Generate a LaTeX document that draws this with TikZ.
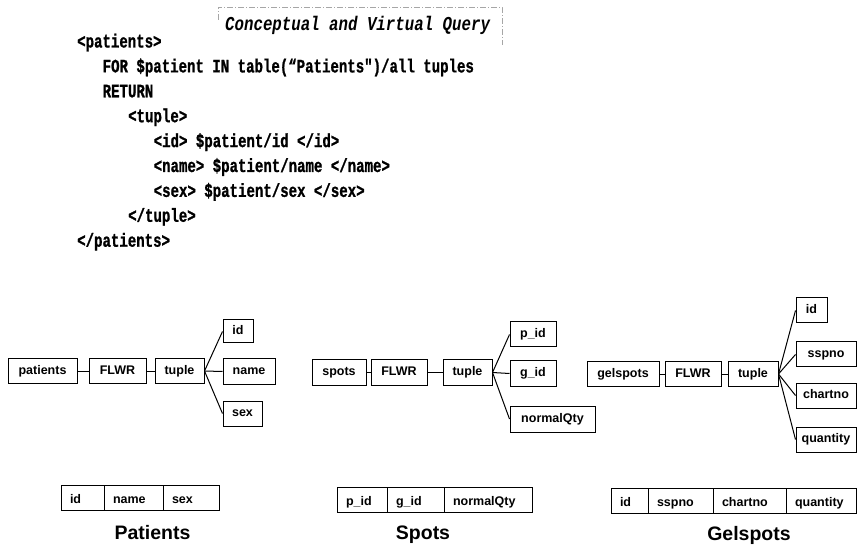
\documentclass[tikz,border=0pt]{standalone}
\usepackage{fontspec}
\setmainfont{Liberation Sans}
\newfontfamily\codefont[FakeStretch=0.74,FakeBold=1]{Liberation Mono}
\newfontfamily\titlefont[FakeStretch=0.80]{Liberation Mono}
\begin{document}
\begin{tikzpicture}[x=1pt,y=-1pt,
  box/.style={draw, line width=1pt, inner xsep=0pt, inner ysep=0pt, minimum height=25pt, text height=9pt, text depth=2.5pt, font=\bfseries\fontsize{12.5}{12.5}\selectfont},
  cell/.style={box, anchor=west, outer sep=0pt, inner xsep=9pt, align=left, text height=12pt, text depth=0pt},
  conn/.style={line width=1pt},
  code/.style={anchor=base west, inner sep=0pt, font=\codefont\bfseries\fontsize{19}{19}\selectfont},
  tname/.style={anchor=base, inner sep=0pt, font=\bfseries\fontsize{19.5}{19.5}\selectfont},
  titlebox/.style={draw=gray!70, line width=0.6pt, dash pattern=on 6pt off 2pt on 1pt off 2pt}
]
\useasboundingbox (0,0) rectangle (857,545);

% title
\node[anchor=base west, inner sep=0pt, font=\titlefont\bfseries\itshape\fontsize{19.7}{19.7}\selectfont] (title) at (225,30.5) {Conceptual and Virtual Query};
\draw[titlebox] (218,20) -- (218,7) -- (502,7) -- (502,45);

% code
\node[code] (c1) at (77,47.5) {<patients>};
\node[code] (c2) at (102.5,72.4) {FOR \$patient IN table(“Patients")/all tuples};
\node[code] (c3) at (102.5,97.3) {RETURN};
\node[code] (c4) at (128,122.2) {<tuple>};
\node[code] (c5) at (153.5,147.1) {<id> \$patient/id </id>};
\node[code] (c6) at (153.5,172) {<name> \$patient/name </name>};
\node[code] (c7) at (153.5,196.9) {<sex> \$patient/sex </sex>};
\node[code] (c8) at (128,221.8) {</tuple>};
\node[code] (c9) at (77,246.7) {</patients>};

% Patients tree
\node[box, minimum width=69pt] (pat) at (42.5,371) {patients};
\node[box, minimum width=57pt] (fl1) at (117.5,371) {FLWR};
\node[box, minimum width=49pt] (tu1) at (179.5,371) {tuple};
\node[box, minimum width=30pt, minimum height=23pt] (pid) at (238,331.5) {id};
\node[box, minimum width=52pt] (pname) at (249,371.5) {name};
\node[box, minimum width=39pt] (psex) at (242.5,413.5) {sex};
\draw[conn] (pat) -- (fl1);
\draw[conn] (fl1) -- (tu1);
\draw[conn] (tu1.east) -- (pid.west);
\draw[conn] (tu1.east) -- (pname.west);
\draw[conn] (tu1.east) -- (psex.west);

% Patients table
\node[cell, text width=25pt] (ta1) at (61,497.5) {id};
\node[cell, text width=41pt] (ta2) at (ta1.east) {name};
\node[cell, text width=38pt] (ta3) at (ta2.east) {sex};
\node[tname] (lpat) at (152.5,539) {Patients};

% Spots tree
\node[box, minimum width=54pt] (spo) at (339,372.5) {spots};
\node[box, minimum width=56pt] (fl2) at (399,372.5) {FLWR};
\node[box, minimum width=49pt] (tu2) at (467.5,372.5) {tuple};
\node[box, minimum width=46pt] (spid) at (533,334.5) {p\_id};
\node[box, minimum width=46pt] (sgid) at (533,373.5) {g\_id};
\node[box, minimum width=85pt, minimum height=26pt] (snq) at (552.5,419) {normalQty};
\draw[conn] (spo) -- (fl2);
\draw[conn] (fl2) -- (tu2);
\draw[conn] (tu2.east) -- (spid.west);
\draw[conn] (tu2.east) -- (sgid.west);
\draw[conn] (tu2.east) -- (snq.west);

% Spots table
\node[cell, text width=32pt] (tb1) at (337,499.5) {p\_id};
\node[cell, text width=39pt] (tb2) at (tb1.east) {g\_id};
\node[cell, text width=70pt] (tb3) at (tb2.east) {normalQty};
\node[tname] (lspo) at (423,539) {Spots};

% Gelspots tree
\node[box, minimum width=72pt] (gel) at (623,374) {gelspots};
\node[box, minimum width=56pt] (fl3) at (693,374) {FLWR};
\node[box, minimum width=50pt] (tu3) at (753,374) {tuple};
\node[box, minimum width=31pt] (gid) at (811.5,310.5) {id};
\node[box, minimum width=60pt] (gss) at (826,354.5) {sspno};
\node[box, minimum width=60pt] (gch) at (826,395.5) {chartno};
\node[box, minimum width=60pt] (gqu) at (826,439.5) {quantity};
\draw[conn] (gel) -- (fl3);
\draw[conn] (fl3) -- (tu3);
\draw[conn] (tu3.east) -- (gid.west);
\draw[conn] (tu3.east) -- (gss.west);
\draw[conn] (tu3.east) -- (gch.west);
\draw[conn] (tu3.east) -- (gqu.west);

% Gelspots table
\node[cell, text width=19pt] (tc1) at (611,500.5) {id};
\node[cell, text width=47pt] (tc2) at (tc1.east) {sspno};
\node[cell, text width=55pt] (tc3) at (tc2.east) {chartno};
\node[cell, text width=52pt] (tc4) at (tc3.east) {quantity};
\node[tname] (lgel) at (749,540.5) {Gelspots};
\end{tikzpicture}
\end{document}
